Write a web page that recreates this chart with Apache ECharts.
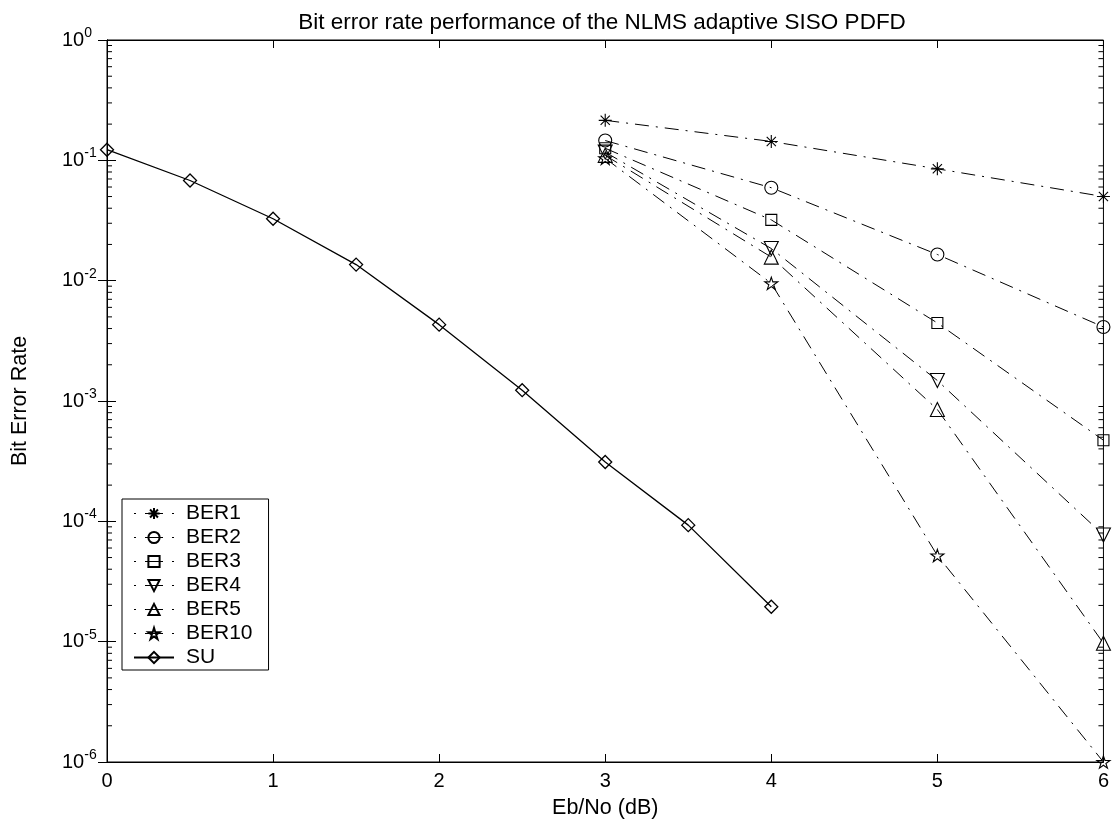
<!DOCTYPE html>
<html>
<head>
<meta charset="utf-8">
<title>NLMS adaptive SISO PDFD BER</title>
<script src="https://cdn.jsdelivr.net/npm/echarts@6/dist/echarts.min.js"></script>
<style>
  html, body { margin: 0; padding: 0; background: #fff; }
  #chart { width: 1112px; height: 834px; }
</style>
</head>
<body>
<div id="chart"></div>
<script>
// Eb/No grid for the adaptive receivers and the single-user bound
var ebnoBER = [3, 4, 5, 6];
var ebnoSU = [0, 0.5, 1, 1.5, 2, 2.5, 3, 3.5, 4];

// Bit error rates
var ber1  = [0.215, 0.1435, 0.085, 0.050];
var ber2  = [0.146, 0.0592, 0.0165, 0.00412];
var ber3  = [0.126, 0.032, 0.00445, 0.000472];
var ber4  = [0.117, 0.0185, 0.00148, 0.000077];
var ber5  = [0.110, 0.0157, 0.00085, 0.0000097];
var ber10 = [0.104, 0.0095, 0.000052, 0.000001];
var su    = [0.1225, 0.068, 0.0327, 0.0136, 0.00431, 0.00123, 0.000311, 0.000093, 0.0000195];

var seriesNames = ['BER1', 'BER2', 'BER3', 'BER4', 'BER5', 'BER10', 'SU'];

// Logarithmic minor tick mantissas per decade
var minorMantissas = [2, 3, 4, 5, 6, 7, 8, 9];
var decades = [-6, -5, -4, -3, -2, -1];

var FONT = '"Liberation Sans", Arial, Helvetica, sans-serif';

var ASTERISK = 'path://M0,-10L0,10M-10,0L10,0M-7.07,-7.07L7.07,7.07M-7.07,7.07L7.07,-7.07';
var PENTAGRAM = 'path://M0,-10L2.245,-3.09L9.511,-3.09L3.633,1.18L5.878,8.09L0,3.82L-5.878,8.09L-3.633,1.18L-9.511,-3.09L-2.245,-3.09Z';

var DASHDOT = [14, 7, 2, 7];
// legend sample: dot, dash through the marker, dot
var LEGEND_DASHDOT = [2, 9, 18, 9];

function pairs(xs, ys) {
  return xs.map(function (x, i) { return [x, ys[i]]; });
}

var minorData = [];
decades.forEach(function (d) {
  minorMantissas.forEach(function (m) {
    minorData.push([0, m * Math.pow(10, d)]);
  });
});

function berSeries(name, values, symbol, size, rotate) {
  return {
    name: name,
    type: 'line',
    data: pairs(ebnoBER, values),
    symbol: symbol,
    symbolSize: size,
    symbolRotate: rotate || 0,
    symbolKeepAspect: true,
    showAllSymbol: true,
    animation: false,
    itemStyle: { color: 'rgba(0,0,0,0)', borderColor: '#000', borderWidth: 1.1 },
    lineStyle: { color: '#000', width: 1, type: DASHDOT },
    emphasis: { disabled: true },
    z: 3
  };
}

function expLabel(v) {
  var e = Math.round(Math.log(v) / Math.LN10);
  return '{b|10}{s|' + (e === 0 ? '0' : String(e)) + '}';
}

var legendData = seriesNames.map(function (n) {
  if (n === 'SU') return { name: n };
  return { name: n, lineStyle: { type: LEGEND_DASHDOT, width: 1, color: '#000' } };
});

var chart = echarts.init(document.getElementById('chart'), null, { renderer: 'canvas' });

chart.setOption({
  backgroundColor: '#fff',
  animation: false,
  title: {
    text: 'Bit error rate performance of the NLMS adaptive SISO PDFD',
    left: 597,
    textAlign: 'center',
    top: 6,
    textStyle: { fontFamily: FONT, fontSize: 22.5, fontWeight: 'normal', color: '#000' }
  },
  grid: {
    left: 107, top: 40, width: 997, height: 722,
    show: true, borderColor: '#000', borderWidth: 1, backgroundColor: '#fff'
  },
  legend: {
    data: legendData,
    orient: 'vertical',
    left: 122,
    top: 499,
    padding: [4, 16, 2, 11],
    itemWidth: 40,
    itemHeight: 14,
    itemGap: 3,
    backgroundColor: '#fff',
    borderColor: '#000',
    borderWidth: 1,
    borderRadius: 0,
    selectedMode: false,
    textStyle: { fontFamily: FONT, fontSize: 21, color: '#000', lineHeight: 20, padding: [0, 0, 0, 7] }
  },
  xAxis: [{
    type: 'value',
    min: 0, max: 6, interval: 1,
    position: 'bottom',
    name: 'Eb/No (dB)',
    nameLocation: 'middle',
    nameGap: 35,
    nameTextStyle: { fontFamily: FONT, fontSize: 21.5, color: '#000' },
    axisLine: { lineStyle: { color: '#000', width: 1 } },
    axisTick: { inside: true, length: 8, lineStyle: { color: '#000' } },
    axisLabel: { fontFamily: FONT, fontSize: 20, color: '#000', margin: 9 },
    splitLine: { show: false }
  }, {
    type: 'value',
    min: 0, max: 6, interval: 1,
    position: 'top',
    axisLine: { lineStyle: { color: '#000', width: 1 } },
    axisTick: { inside: true, length: 8, lineStyle: { color: '#000' } },
    axisLabel: { show: false },
    splitLine: { show: false }
  }],
  yAxis: [{
    type: 'log',
    logBase: 10,
    min: 1e-6, max: 1, interval: 1,
    position: 'left',
    name: 'Bit Error Rate',
    nameLocation: 'middle',
    nameGap: 76,
    nameRotate: 90,
    nameTextStyle: { fontFamily: FONT, fontSize: 21.5, color: '#000' },
    axisLine: { lineStyle: { color: '#000', width: 1 } },
    axisTick: { inside: true, length: 9, lineStyle: { color: '#000' } },
    axisLabel: {
      align: 'left',
      margin: 45,
      formatter: expLabel,
      rich: {
        b: { fontFamily: FONT, fontSize: 20, color: '#000' },
        s: { fontFamily: FONT, fontSize: 14, color: '#000', padding: [0, 0, 14, 0] }
      }
    },
    splitLine: { show: false }
  }, {
    type: 'log',
    logBase: 10,
    min: 1e-6, max: 1, interval: 1,
    position: 'right',
    axisLine: { lineStyle: { color: '#000', width: 1 } },
    axisTick: { inside: true, length: 9, lineStyle: { color: '#000' } },
    axisLabel: { show: false },
    splitLine: { show: false }
  }],
  series: [
    berSeries('BER1', ber1, ASTERISK, 13),
    berSeries('BER2', ber2, 'circle', 13),
    berSeries('BER3', ber3, 'rect', 11),
    berSeries('BER4', ber4, 'triangle', 14, 180),
    berSeries('BER5', ber5, 'triangle', 14),
    berSeries('BER10', ber10, PENTAGRAM, 13),
    {
      name: 'SU',
      type: 'line',
      data: pairs(ebnoSU, su),
      symbol: 'diamond',
      symbolSize: 13,
      showAllSymbol: true,
      animation: false,
      itemStyle: { color: 'rgba(0,0,0,0)', borderColor: '#000', borderWidth: 1.3 },
      lineStyle: { color: '#000', width: 1.3, type: 'solid' },
      emphasis: { disabled: true },
      z: 3
    },
    {
      // logarithmic minor ticks on the left and right frame edges
      name: 'minorTicks',
      type: 'custom',
      silent: true,
      clip: false,
      data: minorData,
      encode: { x: 0, y: 1 },
      renderItem: function (params, api) {
        var v = api.value(1);
        var pl = api.coord([0, v]);
        var pr = api.coord([6, v]);
        return {
          type: 'group',
          children: [
            { type: 'line', shape: { x1: pl[0], y1: pl[1], x2: pl[0] + 5, y2: pl[1] }, style: { stroke: '#000', lineWidth: 1 } },
            { type: 'line', shape: { x1: pr[0], y1: pr[1], x2: pr[0] - 5, y2: pr[1] }, style: { stroke: '#000', lineWidth: 1 } }
          ]
        };
      },
      z: 2
    }
  ]
});
</script>
</body>
</html>
